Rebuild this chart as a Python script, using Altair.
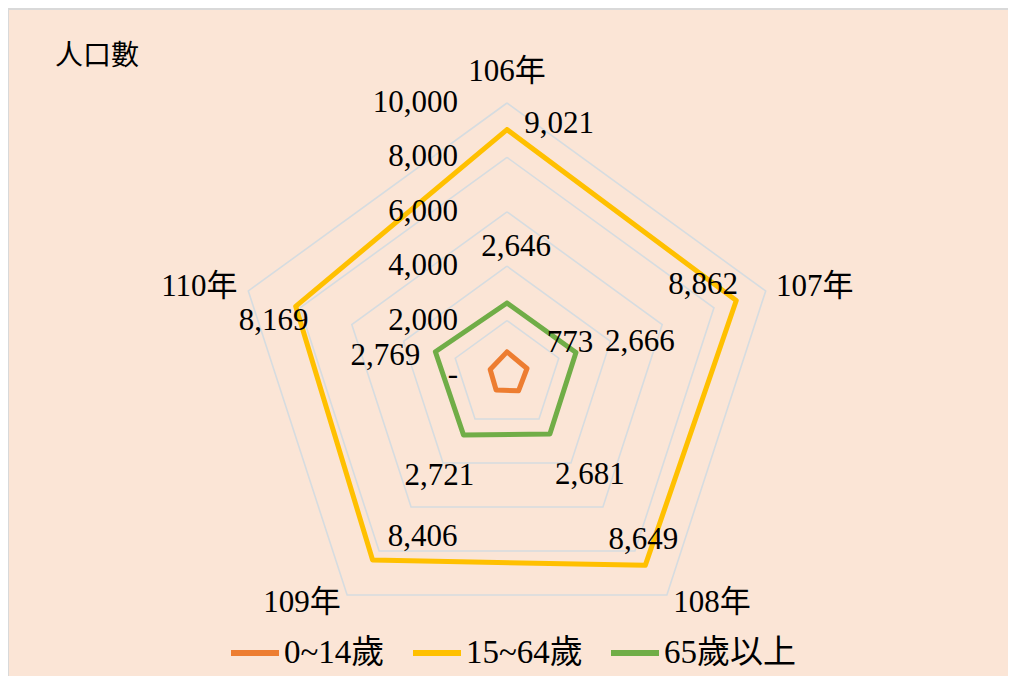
import altair as alt
import pandas as pd

# ---------------- data ----------------
years = ["106年", "107年", "108年", "109年", "110年"]
series_names = ["0~14歲", "15~64歲", "65歲以上"]
age_0_14 = [850, 773, 720, 680, 650]
age_15_64 = [9021, 8862, 8649, 8406, 8169]
age_65_up = [2646, 2666, 2681, 2721, 2769]
grid_levels = [2000, 4000, 6000, 8000, 10000]
tick_values = [0, 2000, 4000, 6000, 8000, 10000]
tick_labels = ["-", "2,000", "4,000", "6,000", "8,000", "10,000"]
title_text = "人口數"

# ---------------- style ----------------
W, H = 1000, 668
CX, CY = 499, 367          # centre of the radar in pixels
PX_PER_UNIT = 272 / 10000  # radius of 10,000
SERIF = "Liberation Serif, Noto Sans CJK TC"
FS = 31
colors = ["#ED7D31", "#FFC000", "#70AD47"]
BG = "#FBE5D6"
GRID = "#D6DCE0"

xs = alt.Scale(domain=[-CX / PX_PER_UNIT, (W - CX) / PX_PER_UNIT], nice=False, zero=False)
ys = alt.Scale(domain=[-(H - CY) / PX_PER_UNIT, CY / PX_PER_UNIT], nice=False, zero=False)


def polar(ch, rfield):
    return ch.transform_calculate(
        ang="PI/2 - datum.idx*2*PI/5"
    ).transform_calculate(
        px=f"datum.{rfield}*cos(datum.ang)",
        py=f"datum.{rfield}*sin(datum.ang)",
    )


def xy():
    return dict(
        x=alt.X("px:Q", scale=xs, axis=None),
        y=alt.Y("py:Q", scale=ys, axis=None),
    )


# series table (closed polygons)
rows = []
for name, vals in zip(series_names, [age_0_14, age_15_64, age_65_up]):
    for i in range(6):
        rows.append({"series": name, "idx": i, "year": years[i % 5], "value": vals[i % 5]})
sdf = pd.DataFrame(rows)

# grid table
grows = []
for lv in grid_levels:
    for i in range(6):
        grows.append({"level": lv, "idx": i, "r": lv})
gdf = pd.DataFrame(grows)

grid = polar(alt.Chart(gdf), "r").mark_line(
    color=GRID, strokeWidth=1.6
).encode(detail="level:N", order=alt.Order("idx:Q"), **xy())

lines = polar(alt.Chart(sdf), "value").mark_line(
    strokeWidth=5, strokeJoin="round", strokeCap="round"
).encode(
    color=alt.Color(
        "series:N",
        scale=alt.Scale(domain=series_names, range=colors),
        legend=alt.Legend(
            title=None, orient="none", direction="horizontal",
            legendX=220, legendY=618, symbolType="stroke",
            symbolStrokeWidth=6, symbolSize=2304, labelFont=SERIF,
            labelFontSize=33, labelColor="black", labelOffset=2,
            columnPadding=16, padding=0, labelLimit=300,
        ),
    ),
    detail="series:N",
    order=alt.Order("idx:Q"),
    **xy(),
)

# radial tick labels
tdf = pd.DataFrame({"idx": [0] * len(tick_values), "r": tick_values, "label": tick_labels})
ticks = polar(alt.Chart(tdf), "r").mark_text(
    font=SERIF, fontSize=FS, align="right", baseline="middle", dx=-49, color="black"
).encode(text="label:N", **xy())

# year labels
ydf = pd.DataFrame({"idx": list(range(5)), "year": years, "r": [max(grid_levels)] * 5})
year_offsets = [(0, -31), (49, -4), (45, 8), (-45, 8), (-49, -4)]
year_layers = []
for i, (dx, dy) in enumerate(year_offsets):
    year_layers.append(
        polar(alt.Chart(ydf), "r").transform_filter(f"datum.idx == {i}").mark_text(
            font=SERIF, fontSize=FS, align="center", baseline="middle", dx=dx, dy=dy, color="black"
        ).encode(text="year:N", **xy())
    )

# value labels
val_offsets = {
    "15~64歲": [(52, -6), (-33, -16), (-2, -25), (50, -23), (-22, 15)],
    "65歲以上": [(9, -56), (64, -11), (40, 41), (-24, 41), (-50, 4)],
    "0~14歲": [None, (43, -26), None, None, None],
}
val_layers = []
for name, offs in val_offsets.items():
    for i, off in enumerate(offs):
        if off is None:
            continue
        val_layers.append(
            polar(alt.Chart(sdf), "value").transform_filter(
                f"datum.series == '{name}' && datum.idx == {i}"
            ).mark_text(
                font=SERIF, fontSize=FS, align="center", baseline="middle",
                dx=off[0], dy=off[1], color="black"
            ).encode(text=alt.Text("value:Q", format=","), **xy())
        )

title = alt.Chart(pd.DataFrame({"t": [title_text]})).mark_text(
    font="Noto Sans CJK TC", fontSize=28, align="left", baseline="middle", color="black"
).encode(text="t:N", x=alt.value(47), y=alt.value(49))

border = alt.Chart(pd.DataFrame({"a": [0]})).mark_rule(color="#D9D9D9", strokeWidth=2).encode(
    x=alt.value(0), x2=alt.value(W), y=alt.value(1)
)
border2 = alt.Chart(pd.DataFrame({"a": [0]})).mark_rule(color="#D9D9D9", strokeWidth=2).encode(
    x=alt.value(0), y=alt.value(0), y2=alt.value(H)
)

chart = alt.layer(
    grid, lines, ticks, *year_layers, *val_layers, title, border, border2
).properties(
    width=W, height=H, background=BG, padding=0,
    autosize=alt.AutoSizeParams(type="none"),
).configure_view(stroke=None)

chart.save("out.html", embed_options={"renderer": "svg", "actions": False})
